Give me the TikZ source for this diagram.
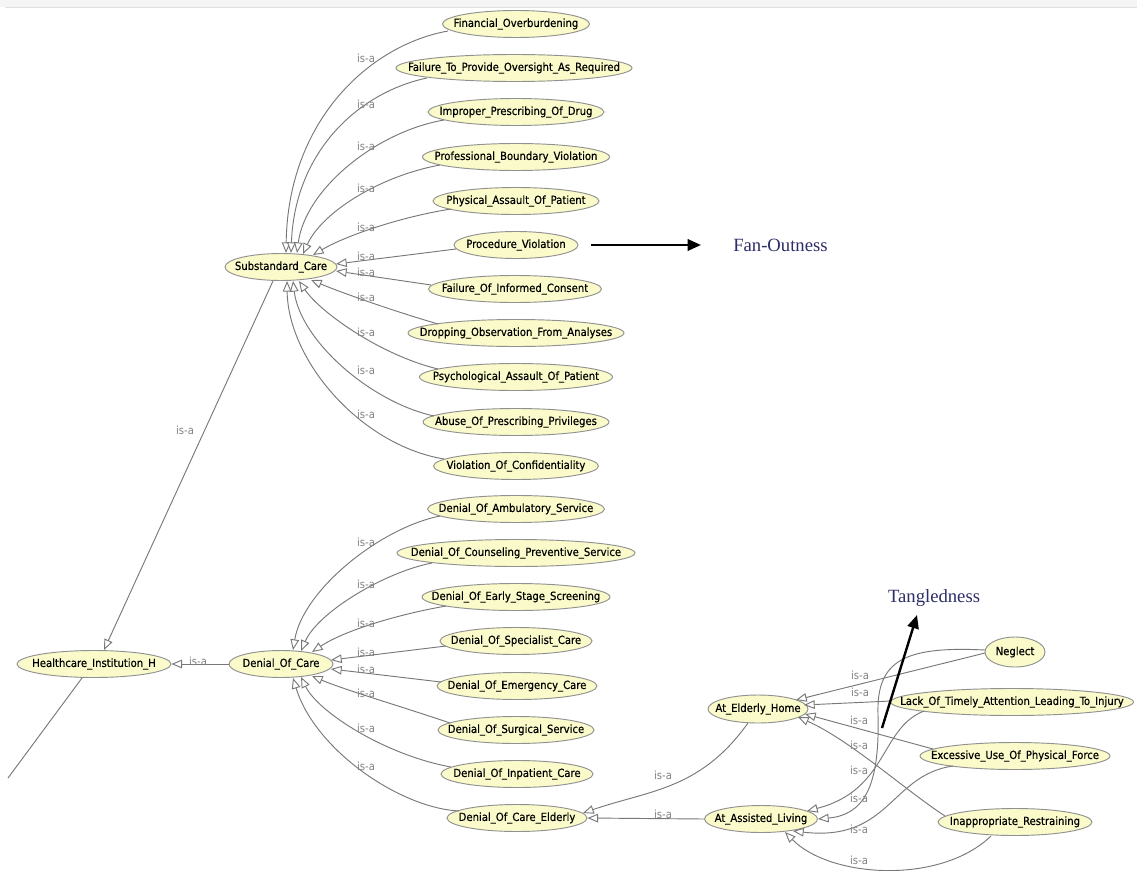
\documentclass[tikz,border=0pt]{standalone}
\usepackage{fontspec}
\setmainfont{Liberation Sans}
\newfontfamily\nodefont{DejaVu Sans Condensed}[FakeBold=0.5]
\newfontfamily\labfont{DejaVu Sans Condensed}
\newfontfamily\serifA{Liberation Serif}
\usetikzlibrary{arrows.meta,shapes.geometric,calc}
\definecolor{nodefill}{RGB}{250,250,202}
\definecolor{nodeline}{RGB}{145,145,145}
\definecolor{edgecol}{RGB}{120,120,120}
\definecolor{labcol}{RGB}{130,130,130}
\definecolor{navy}{RGB}{45,45,105}
\newcommand\cnode[5][20.25pt]{\node[cls, minimum width=#4*0.75pt, minimum height=#1] (#2) at #3 {\makebox[0pt]{#5}};}
\begin{document}
\begin{tikzpicture}[x=0.75pt,y=-0.75pt,
  cls/.style={ellipse, draw=nodeline, fill=nodefill, line width=0.7pt, inner sep=0pt, font=\nodefont\fontsize{8.4}{9}\selectfont},
  isa/.style={draw=edgecol, line width=0.7pt, -{Triangle[fill=white, length=8pt, width=6.5pt]}},
  plain/.style={draw=edgecol, line width=0.7pt},
  lab/.style={text=labcol, inner sep=0pt, font=\labfont\fontsize{8.4}{9}\selectfont},
  bigarrow/.style={draw=black, line width=1.8pt, -{Triangle[length=10pt, width=8.5pt]}},
  anno/.style={text=navy, inner sep=0pt, font=\serifA\fontsize{14}{16}\selectfont}]
\useasboundingbox (0,0) rectangle (1137,870);
\fill[white] (0,0) rectangle (1137,870);
\fill[black!4] (0,0) rectangle (1137,7);
\draw[black!12, line width=0.5pt] (5,7.5) -- (1137,7.5);
% nodes
\cnode{sub}{(281,267)}{112}{Substandard\_Care}
\cnode{fin}{(516,24)}{147}{Financial\_Overburdening}
\cnode{fail}{(514,68)}{236}{Failure\_To\_Provide\_Oversight\_As\_Required}
\cnode{impr}{(516,112)}{176}{Improper\_Prescribing\_Of\_Drug}
\cnode{prof}{(516,157)}{187}{Professional\_Boundary\_Violation}
\cnode{phys}{(516,201)}{166}{Physical\_Assault\_Of\_Patient}
\cnode{proc}{(516,245)}{124}{Procedure\_Violation}
\cnode{cons}{(515,289)}{173}{Failure\_Of\_Informed\_Consent}
\cnode{drop}{(516,333)}{216}{Dropping\_Observation\_From\_Analyses}
\cnode{psych}{(516,377)}{193}{Psychological\_Assault\_Of\_Patient}
\cnode{abuse}{(516,422)}{186}{Abuse\_Of\_Prescribing\_Privileges}
\cnode{conf}{(516,466)}{165}{Violation\_Of\_Confidentiality}
\cnode{hc}{(94,664)}{154}{Healthcare\_Institution\_H}
\cnode{doc}{(281,664)}{104}{Denial\_Of\_Care}
\cnode{amb}{(516,509)}{177}{Denial\_Of\_Ambulatory\_Service}
\cnode{coun}{(516,553)}{238}{Denial\_Of\_Counseling\_Preventive\_Service}
\cnode{early}{(516,597)}{188}{Denial\_Of\_Early\_Stage\_Screening}
\cnode{spec}{(516,641)}{152}{Denial\_Of\_Specialist\_Care}
\cnode{emer}{(517,686)}{160}{Denial\_Of\_Emergency\_Care}
\cnode{surg}{(516,730)}{156}{Denial\_Of\_Surgical\_Service}
\cnode{inp}{(517,774)}{152}{Denial\_Of\_Inpatient\_Care}
\cnode{eld}{(517,818)}{140}{Denial\_Of\_Care\_Elderly}
\cnode[21pt]{home}{(758,709)}{100}{At\_Elderly\_Home}
\cnode{assist}{(761,819)}{113}{At\_Assisted\_Living}
\cnode[22.5pt]{neg}{(1015,652)}{60}{Neglect}
\cnode{lack}{(1012,702)}{243}{Lack\_Of\_Timely\_Attention\_Leading\_To\_Injury}
\cnode{exc}{(1015,756)}{190}{Excessive\_Use\_Of\_Physical\_Force}
\cnode{inap}{(1015,822)}{154}{Inappropriate\_Restraining}
% Substandard_Care fan
\draw[isa] ([shift={(-68,7)}]fin.center) .. controls (370,45) and (288,120) .. ([shift={(5,-14)}]sub.center);
\draw[isa] ([shift={(-87,10)}]fail.center) .. controls (360,92) and (295,150) .. ([shift={(10,-14)}]sub.center);
\draw[isa] ([shift={(-72,8)}]impr.center) .. controls (375,132) and (305,190) .. ([shift={(16,-14)}]sub.center);
\draw[isa] ([shift={(-76,8)}]prof.center) .. controls (380,176) and (322,212) .. ([shift={(22,-13)}]sub.center);
\draw[isa] ([shift={(-65,8)}]phys.center) .. controls (400,217) and (345,236) .. ([shift={(32,-12)}]sub.center);
\draw[isa] ([shift={(-60,4)}]proc.center) -- ([shift={(55,-3)}]sub.center);
\draw[isa] ([shift={(-84,-4)}]cons.center) -- ([shift={(55,4)}]sub.center);
\draw[isa] ([shift={(-78,-9)}]drop.center) .. controls (390,310) and (340,292) .. ([shift={(30,13)}]sub.center);
\draw[isa] ([shift={(-78,-8)}]psych.center) .. controls (380,355) and (320,312) .. ([shift={(18,14)}]sub.center);
\draw[isa] ([shift={(-82,-6)}]abuse.center) .. controls (370,402) and (300,340) .. ([shift={(12,14)}]sub.center);
\draw[isa] ([shift={(-72,-7)}]conf.center) .. controls (360,445) and (288,360) .. ([shift={(6,14)}]sub.center);
\node[lab] (l1) at (366,58) {is-a};
\node[lab] (l2) at (366,104) {is-a};
\node[lab] (l3) at (366,146) {is-a};
\node[lab] (l4) at (366,188) {is-a};
\node[lab] (l5) at (366,227) {is-a};
\node[lab] (l6) at (366,256) {is-a};
\node[lab] (l7) at (366,272) {is-a};
\node[lab] (l8) at (366,297) {is-a};
\node[lab] (l9) at (366,332) {is-a};
\node[lab] (l10) at (366,370) {is-a};
\node[lab] (l11) at (366,414) {is-a};
% Denial_Of_Care fan
\draw[isa] ([shift={(-76,7)}]amb.center) .. controls (380,528) and (303,590) .. ([shift={(12,-14)}]doc.center);
\draw[isa] ([shift={(-84,10)}]coun.center) .. controls (385,572) and (318,612) .. ([shift={(20,-13)}]doc.center);
\draw[isa] ([shift={(-70,9)}]early.center) .. controls (400,614) and (345,630) .. ([shift={(31,-12)}]doc.center);
\draw[isa] ([shift={(-70,5)}]spec.center) -- ([shift={(50,-4)}]doc.center);
\draw[isa] ([shift={(-76,-4)}]emer.center) -- ([shift={(50,5)}]doc.center);
\draw[isa] ([shift={(-66,-7)}]surg.center) .. controls (400,706) and (345,690) .. ([shift={(31,12)}]doc.center);
\draw[isa] ([shift={(-66,-7)}]inp.center) .. controls (385,755) and (318,712) .. ([shift={(20,13)}]doc.center);
\draw[isa] ([shift={(-58,-7)}]eld.center) .. controls (400,808) and (315,750) .. ([shift={(12,14)}]doc.center);
\node[lab] (m1) at (366,542) {is-a};
\node[lab] (m2) at (366,584) {is-a};
\node[lab] (m3) at (366,623) {is-a};
\node[lab] (m4) at (366,652) {is-a};
\node[lab] (m5) at (366,669) {is-a};
\node[lab] (m6) at (366,693) {is-a};
\node[lab] (m7) at (366,728) {is-a};
\node[lab] (m8) at (366,766) {is-a};
% to Healthcare_Institution_H
\draw[isa] (doc.west) -- (hc.east);
\node[lab] (h1) at (198,661) {is-a};
\draw[isa] ([shift={(-8,14)}]sub.center) -- ([shift={(10,-14)}]hc.center);
\node[lab] (h2) at (185,430) {is-a};
\coordinate (offpage) at (8,778);
\draw[plain] ([shift={(-12,14)}]hc.center) -- (offpage);
% tangled part
\draw[isa] ([shift={(-30,1)}]neg.center) -- ([shift={(38,-9)}]home.center);
\draw[isa] ([shift={(-30,-2)}]neg.center) .. controls (905,646) and (876,660) .. (878,715) .. controls (880,790) and (862,815) .. (assist.east);
\draw[isa] ([shift={(-121,-1)}]lack.center) -- ([shift={(46,-4)}]home.center);
\draw[isa] ([shift={(-88,9)}]lack.center) .. controls (880,728) and (888,790) .. ([shift={(46,-8)}]assist.center);
\draw[isa] ([shift={(-82,-7)}]exc.center) -- ([shift={(47,5)}]home.center);
\draw[isa] ([shift={(-70,-6)}]inap.center) .. controls (905,790) and (850,740) .. ([shift={(40,8)}]home.center);
\draw[isa] ([shift={(-62,10)}]exc.center) .. controls (890,775) and (890,842) .. ([shift={(32,12)}]assist.center);
\draw[isa] ([shift={(-24,14)}]inap.center) .. controls (940,885) and (830,878) .. ([shift={(24,13)}]assist.center);
\draw[isa] ([shift={(-10,14)}]home.center) .. controls (700,790) and (650,790) .. ([shift={(66,-5)}]eld.center);
\draw[isa] (assist.west) -- (eld.east);
\node[lab] (t1) at (860,675) {is-a};
\node[lab] (t2) at (860,692) {is-a};
\node[lab] (t3) at (859,720) {is-a};
\node[lab] (t4) at (859,745) {is-a};
\node[lab] (t5) at (859,770) {is-a};
\node[lab] (t6) at (859,798) {is-a};
\node[lab] (t7) at (859,829) {is-a};
\node[lab] (t8) at (859,860) {is-a};
\node[lab] (e1) at (663,775) {is-a};
\node[lab] (e2) at (663,814) {is-a};
% annotations
\node[anno, anchor=west] (fanout) at (733,245) {Fan-Outness};
\coordinate (fanstart) at (591,245);
\draw[bigarrow] (fanstart) -- ([xshift=-24]fanout.west);
\node[anno] (tangle) at (934,598) {Tangledness};
\coordinate (tanglestart) at (882,728);
\draw[bigarrow] (tanglestart) -- (917,615);
\end{tikzpicture}
\end{document}
